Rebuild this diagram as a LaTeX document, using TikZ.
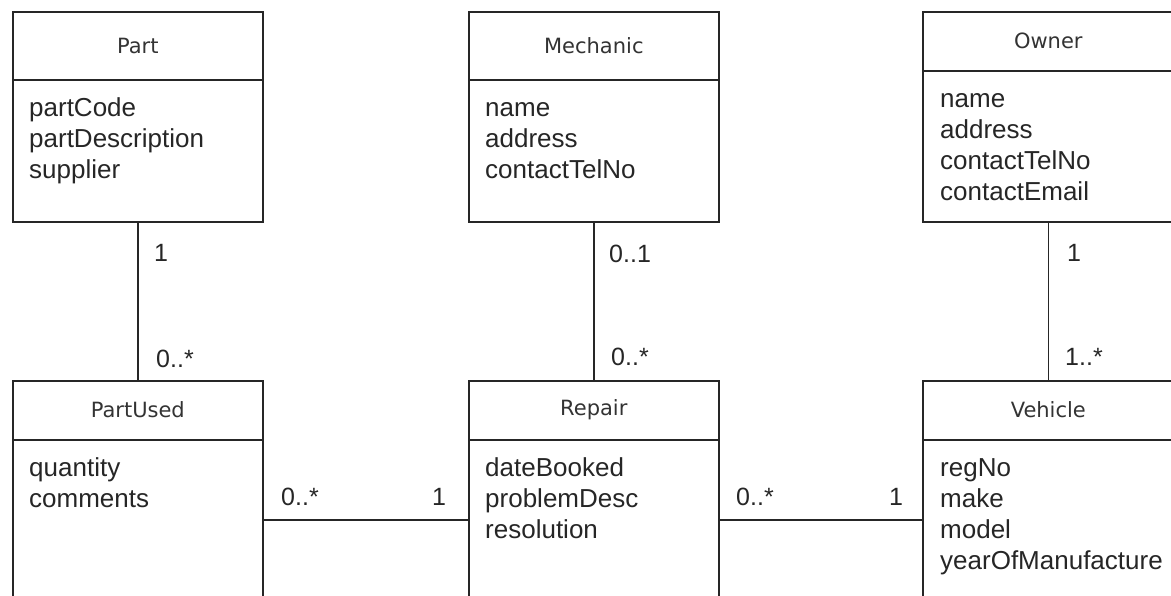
\documentclass[tikz,border=0pt]{standalone}
\usepackage{fontspec}
\setmainfont{Liberation Sans}
\newfontfamily\classfont{DejaVu Sans}
\usetikzlibrary{positioning}

\tikzset{
  classbox/.style={draw=black!85, line width=1.6pt, anchor=north west,
    inner sep=0pt, minimum width=250pt},
  classname/.style={font=\classfont\fontsize{21}{25}\selectfont, text=black!80, inner sep=0pt},
  attrs/.style={font=\fontsize{26}{31}\selectfont, text=black!85, align=left,
    anchor=north west, inner sep=0pt},
  mult/.style={font=\fontsize{25}{30}\selectfont, text=black!85, inner sep=0pt, anchor=base west},
  assoc/.style={draw=black!85, line width=1.6pt}
}
\newcommand{\firstline}{\rule{0pt}{21pt}}

\begin{document}
\begin{tikzpicture}[x=1pt, y=-1pt]
\useasboundingbox (0,0) rectangle (1171,596);
\clip (0,0) rectangle (1171,596);

% top row
\node[classbox, minimum height=210pt] (part) at (12,11) {};
\node[classbox, minimum height=210pt] (mechanic) at (468,11) {};
\node[classbox, minimum height=210pt, minimum width=251pt] (owner) at (922,11) {};
\draw[assoc] ([yshift=-69pt]part.north west) -- ([yshift=-69pt]part.north east);
\draw[assoc] ([yshift=-69pt]mechanic.north west) -- ([yshift=-69pt]mechanic.north east);
\draw[assoc] ([yshift=-60pt]owner.north west) -- ([yshift=-60pt]owner.north east);
\node[classname] (partname) at ([yshift=-34.5pt]part.north) {Part};
\node[classname] (mechanicname) at ([yshift=-34.5pt]mechanic.north) {Mechanic};
\node[classname] (ownername) at ([yshift=-30pt]owner.north) {Owner};
\node[attrs] (partattrs) at ([xshift=17pt, yshift=-84pt]part.north west)
  {\firstline partCode\\partDescription\\supplier};
\node[attrs] (mechanicattrs) at ([xshift=17pt, yshift=-84pt]mechanic.north west)
  {\firstline name\\address\\contactTelNo};
\node[attrs] (ownerattrs) at ([xshift=18pt, yshift=-75pt]owner.north west)
  {\firstline name\\address\\contactTelNo\\contactEmail};

% bottom row
\node[classbox, minimum height=278pt] (partused) at (12,380) {};
\node[classbox, minimum height=278pt] (repair) at (468,380) {};
\node[classbox, minimum height=278pt, minimum width=251pt] (vehicle) at (922,380) {};
\draw[assoc] ([yshift=-60pt]partused.north west) -- ([yshift=-60pt]partused.north east);
\draw[assoc] ([yshift=-60pt]repair.north west) -- ([yshift=-60pt]repair.north east);
\draw[assoc] ([yshift=-60pt]vehicle.north west) -- ([yshift=-60pt]vehicle.north east);
\node[classname] (partusedname) at ([yshift=-30pt]partused.north) {PartUsed};
\node[classname] (repairname) at ([yshift=-30pt]repair.north) {Repair};
\node[classname] (vehiclename) at ([yshift=-30pt]vehicle.north) {Vehicle};
\node[attrs] (partusedattrs) at ([xshift=17pt, yshift=-75pt]partused.north west)
  {\firstline quantity\\comments};
\node[attrs] (repairattrs) at ([xshift=17pt, yshift=-75pt]repair.north west)
  {\firstline dateBooked\\problemDesc\\resolution};
\node[attrs] (vehicleattrs) at ([xshift=18pt, yshift=-75pt]vehicle.north west)
  {\firstline regNo\\make\\model\\yearOfManufacture};

% associations
\draw[assoc] (part.south) -- (partused.north);
\draw[assoc] (mechanic.south) -- (repair.north);
\draw[assoc] (owner.south) -- (owner.south |- vehicle.north);
\draw[assoc] (partused.east) -- (repair.west);
\draw[assoc] (repair.east) -- (vehicle.west);

% multiplicities
\node[mult] (m1) at (154,262) {1};
\node[mult] (m2) at (156,367) {0..*};
\node[mult] (m3) at (609,263) {0..1};
\node[mult] (m4) at (611,365) {0..*};
\node[mult] (m5) at (1067,262) {1};
\node[mult] (m6) at (1065,365) {1..*};
\node[mult] (m7) at (281,505) {0..*};
\node[mult] (m8) at (432,505) {1};
\node[mult] (m9) at (736,505) {0..*};
\node[mult] (m10) at (889,505) {1};
\end{tikzpicture}
\end{document}
